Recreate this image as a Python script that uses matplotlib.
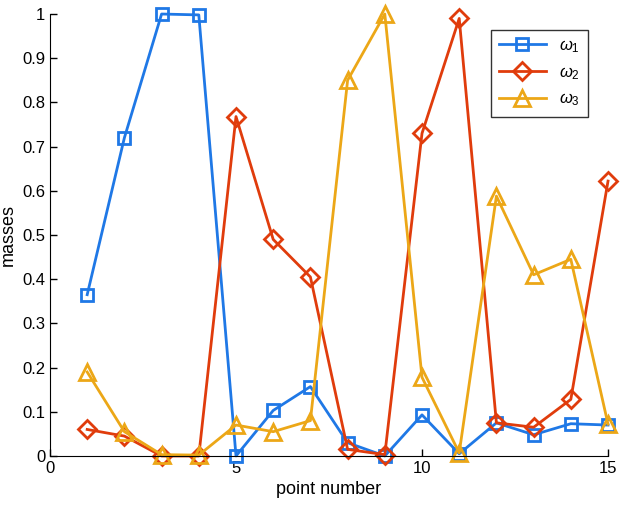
import matplotlib
matplotlib.use("Agg")
import matplotlib.pyplot as plt
import numpy as np

plt.rcParams['font.family'] = ['Liberation Sans', 'DejaVu Sans']
plt.rcParams['mathtext.fontset'] = 'custom'
plt.rcParams['mathtext.it'] = 'Liberation Sans:italic'
plt.rcParams['mathtext.rm'] = 'Liberation Sans'

points = np.arange(1, 16)
w1 = [0.365, 0.72, 1.0, 0.998, 0.0, 0.103, 0.157, 0.03, 0.0, 0.093, 0.005, 0.075, 0.048, 0.073, 0.07]
w2 = [0.06, 0.045, 0.0, 0.0, 0.768, 0.49, 0.405, 0.015, 0.003, 0.73, 0.99, 0.075, 0.065, 0.128, 0.622]
w3 = [0.19, 0.055, 0.003, 0.002, 0.07, 0.055, 0.08, 0.85, 1.0, 0.178, 0.007, 0.588, 0.41, 0.445, 0.072]
labels = [r'$\omega_1$', r'$\omega_2$', r'$\omega_3$']

fig = plt.figure(figsize=(6.21, 5.08), dpi=100)
ax = fig.add_axes([0.0805, 0.1024, 0.8986, 0.870])

ax.plot(points, w1, '-s', color='#1f78e6', lw=2, ms=8, mfc='none', mew=2, label=labels[0], clip_on=False)
ax.plot(points, w2, '-D', color='#e03c0c', lw=2, ms=9, mfc='none', mew=2, label=labels[1], clip_on=False)
ax.plot(points, w3, '-^', color='#eca717', lw=2, ms=11, mfc='none', mew=2, label=labels[2], clip_on=False)

ax.set_xlim(0, 15)
ax.set_ylim(0, 1)
ax.set_xticks([0, 5, 10, 15])
ax.set_yticks(np.round(np.arange(0, 1.01, 0.1), 1))
ax.set_yticklabels(['0', '0.1', '0.2', '0.3', '0.4', '0.5', '0.6', '0.7', '0.8', '0.9', '1'])
ax.tick_params(direction='in', length=5, width=1, labelsize=12)
ax.spines['top'].set_visible(False)
ax.spines['right'].set_visible(False)
ax.set_xlabel('point number', fontsize=13)
ax.set_ylabel('masses', fontsize=13)

leg = ax.legend(loc='upper right', bbox_to_anchor=(0.947, 0.941), bbox_transform=fig.transFigure,
                borderaxespad=0, fancybox=False, edgecolor='black', fontsize=12,
                handlelength=2.8, borderpad=0.5, labelspacing=0.6)
leg.get_frame().set_linewidth(1)

fig.savefig('out.png', dpi=100)
